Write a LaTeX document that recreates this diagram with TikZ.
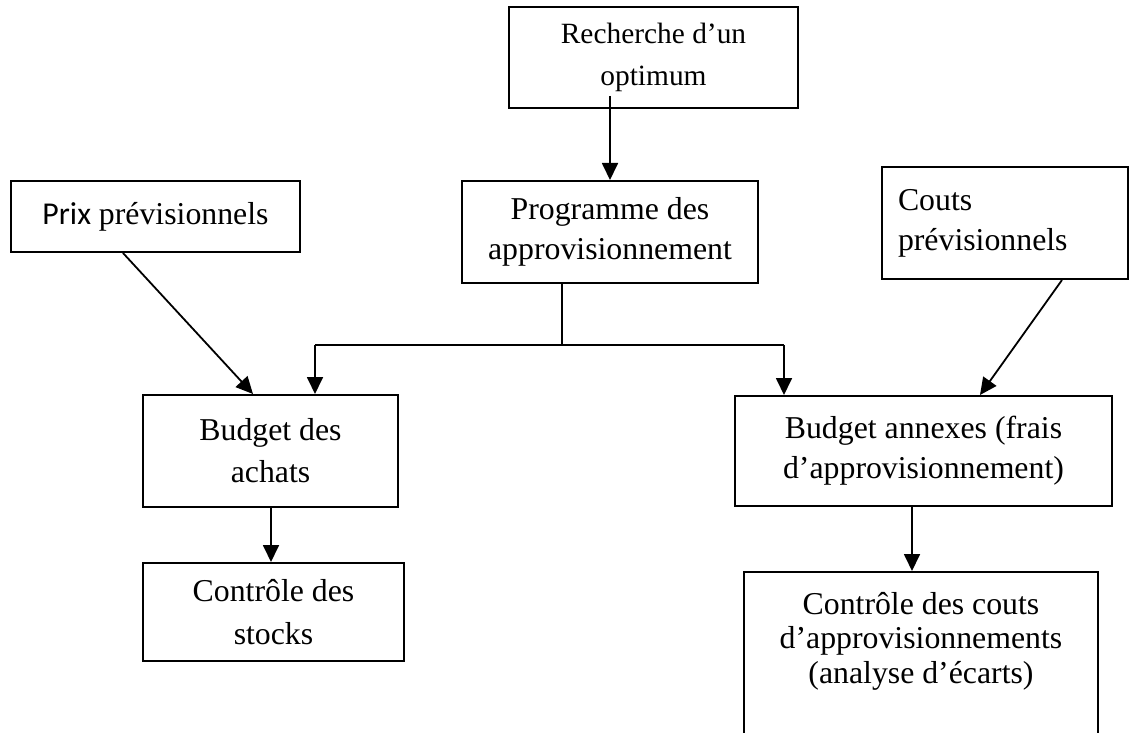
\documentclass[tikz,border=0pt]{standalone}
\usepackage{fontspec}
\setmainfont{Liberation Serif}
\newfontfamily\calibfont{Carlito}
\usetikzlibrary{arrows.meta}

\begin{document}
\begin{tikzpicture}[
  x=0.5pt, y=-0.5pt,
  box/.style={rectangle, draw=black, line width=1pt, inner sep=0pt, align=center, font=\fontsize{15.9}{20}\selectfont},
  arrow/.style={line width=0.9pt, -{Triangle[length=8.5pt, width=8pt]}},
  link/.style={line width=0.9pt}
]
\useasboundingbox (0,0) rectangle (1131,733);
\clip (0,0) rectangle (1131,733);

\node (rech) [box, minimum width=144.5pt, minimum height=50.5pt, font=\fontsize{14.7}{21}\selectfont] at (653.5,57.5) {Recherche d’un\\optimum};
\node (prog) [box, minimum width=148pt, minimum height=51pt] at (610,232) {Programme des\\approvisionnement};
\node (prix) [box, minimum width=144.5pt, minimum height=35.5pt] at (155.5,216.5) {{\calibfont Prix} prévisionnels};
\node (couts) [box, minimum width=123pt, minimum height=56pt, align=left, text width=107pt] at (1005,223) {Couts\\prévisionnels};
\node (achats) [box, minimum width=127.5pt, minimum height=56pt, font=\fontsize{15.9}{21}\selectfont] at (270.5,451) {Budget des\\achats};
\node (annexes) [box, minimum width=188.5pt, minimum height=55pt] at (923.5,451) {Budget annexes (frais\\d’approvisionnement)};
\node (stocks) [box, minimum width=130.5pt, minimum height=49pt, font=\fontsize{15.9}{21.5}\selectfont] at (273.5,612) {Contrôle des\\stocks};
\node (ecarts) [box, minimum width=177pt, minimum height=83pt, font=\fontsize{15.9}{17.25}\selectfont] at (921,655) {Contrôle des couts\\d’approvisionnements\\(analyse d’écarts)\\\mbox{}};

\coordinate (split) at (562,345);
\coordinate (ga) at (315,345);
\coordinate (dr) at (784,345);

\draw [arrow] ([yshift=6.5pt]rech.south -| prog.north) -- (prog.north);
\draw [link] (prog.south -| split) -- (split);
\draw [link] (ga) -- (dr);
\draw [arrow] (ga) -- (ga |- achats.north);
\draw [arrow] (dr) -- (dr |- annexes.north);
\draw [arrow] ([xshift=-16.25pt]prix.south) -- ([xshift=-8.75pt]achats.north);
\draw [arrow] ([xshift=28.5pt]couts.south) -- ([xshift=28.25pt]annexes.north);
\draw [arrow] ([xshift=0.25pt]achats.south) -- ([xshift=0.25pt]achats.south |- stocks.north);
\draw [arrow] ([xshift=-5.75pt]annexes.south) -- ([xshift=-5.75pt]annexes.south |- ecarts.north);
\end{tikzpicture}
\end{document}
